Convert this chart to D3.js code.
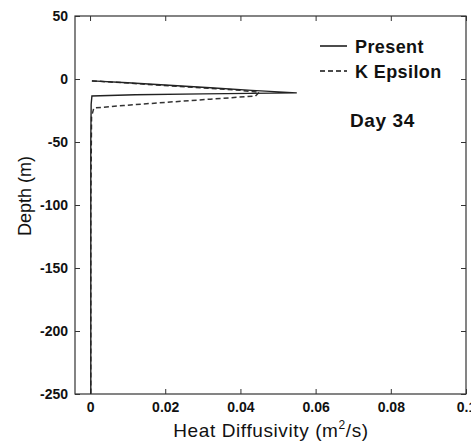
<!DOCTYPE html>
<html><head><meta charset="utf-8">
<script src="https://cdn.jsdelivr.net/npm/d3@7"></script>
<style>body{margin:0;background:#fff}svg{display:block}text{font-family:"Liberation Sans",Arial,sans-serif}</style>
</head><body>
<script>
// Data: depth (m) and heat diffusivity (m^2/s)
const presentDepth = [-1.5, -3, -5, -7, -9, -11, -11.8, -12.5, -13.5, -20, -50, -100, -150, -200, -250];
const presentValue = [0.0005, 0.010, 0.021, 0.032, 0.043, 0.055, 0.030, 0.012, 0.0005, 0.0003, 0.0002, 0.0002, 0.0002, 0.0002, 0.0002];
const kepsDepth = [-1.5, -3, -5, -7, -9, -10.5, -13.5, -16, -19, -21, -23, -30, -66, -100, -250];
const kepsValue = [0.0005, 0.009, 0.019, 0.030, 0.040, 0.045, 0.044, 0.032, 0.018, 0.009, 0.001, 0.0004, 0.0003, 0.0002, 0.0002];
const xTicks = [0, 0.02, 0.04, 0.06, 0.08, 0.1];
const xTickLabels = ["0", "0.02", "0.04", "0.06", "0.08", "0.1"];
const yTicks = [50, 0, -50, -100, -150, -200, -250];
const seriesNames = ["Present", "K Epsilon"];
const annotation = "Day 34";

const W = 471, H = 443;
const m = {left: 75, top: 16, right: 5, bottom: 49};
const svg = d3.select("body").append("svg").attr("width", W).attr("height", H);
const x = d3.scaleLinear().domain([-0.004, 0.1]).range([m.left, W - m.right]);
const y = d3.scaleLinear().domain([-250, 50]).range([H - m.bottom, m.top]);

const axisColor = "#333";
const g = svg.append("g");
// frame
g.append("rect").attr("x", x.range()[0]).attr("y", y.range()[1])
  .attr("width", x.range()[1] - x.range()[0]).attr("height", y.range()[0] - y.range()[1])
  .attr("fill", "none").attr("stroke", axisColor).attr("stroke-width", 1.2);

function styleAxis(sel, showLabels) {
  sel.select(".domain").remove();
  sel.selectAll(".tick line").attr("stroke", axisColor).attr("stroke-width", 1);
  sel.selectAll(".tick text").attr("font-size", 14).attr("font-weight", "bold").attr("fill", "#111")
     .style("display", showLabels ? null : "none");
}
const tickLen = 5;
g.append("g").attr("transform", `translate(0,${y.range()[0]})`)
  .call(d3.axisBottom(x).tickValues(xTicks).tickFormat((d, i) => xTickLabels[i]).tickSizeInner(-tickLen).tickSizeOuter(0).tickPadding(8))
  .call(s => styleAxis(s, true));
g.append("g").attr("transform", `translate(0,${y.range()[1]})`)
  .call(d3.axisTop(x).tickValues(xTicks).tickSizeInner(-tickLen).tickSizeOuter(0))
  .call(s => styleAxis(s, false));
g.append("g").attr("transform", `translate(${x.range()[0]},0)`)
  .call(d3.axisLeft(y).tickValues(yTicks).tickFormat(d => String(d)).tickSizeInner(-tickLen).tickSizeOuter(0).tickPadding(7))
  .call(s => styleAxis(s, true));
g.append("g").attr("transform", `translate(${x.range()[1]},0)`)
  .call(d3.axisRight(y).tickValues(yTicks).tickSizeInner(-tickLen).tickSizeOuter(0))
  .call(s => styleAxis(s, false));

const line = d3.line().x(d => x(d[1])).y(d => y(d[0]));
const present = presentDepth.map((d, i) => [d, presentValue[i]]);
const keps = kepsDepth.map((d, i) => [d, kepsValue[i]]);
g.append("path").attr("d", line(keps)).attr("fill", "none").attr("stroke", "#333")
  .attr("stroke-width", 1.5).attr("stroke-dasharray", "5,3");
g.append("path").attr("d", line(present)).attr("fill", "none").attr("stroke", "#222")
  .attr("stroke-width", 1.4);

// legend
const lg = svg.append("g");
[["none", 46], ["5,3", 71]].forEach((s, i) => {
  lg.append("line").attr("x1", 320).attr("x2", 347).attr("y1", s[1]).attr("y2", s[1])
    .attr("stroke", "#111").attr("stroke-width", 1.5).attr("stroke-dasharray", s[0]);
  lg.append("text").attr("x", 355).attr("y", s[1] + 7).attr("font-size", 18).attr("fill", "#111")
    .attr("font-weight", "bold").attr("letter-spacing", 0.4).text(seriesNames[i]);
});
svg.append("text").attr("x", 350).attr("y", 127).attr("font-size", 19).attr("font-weight", "bold")
  .attr("letter-spacing", 0.6).attr("fill", "#111").text(annotation);

// axis titles
const xt = svg.append("text").attr("x", 271).attr("y", 437).attr("text-anchor", "middle")
  .attr("font-size", 19).attr("letter-spacing", 0.6).attr("fill", "#111");
xt.append("tspan").text("Heat Diffusivity (m");
xt.append("tspan").attr("dy", -8).attr("font-size", 12).text("2");
xt.append("tspan").attr("dy", 8).text("/s)");
svg.append("text").attr("transform", "translate(31,196) rotate(-90)").attr("text-anchor", "middle")
  .attr("font-size", 18).attr("fill", "#111").text("Depth (m)");
</script>
</body></html>
